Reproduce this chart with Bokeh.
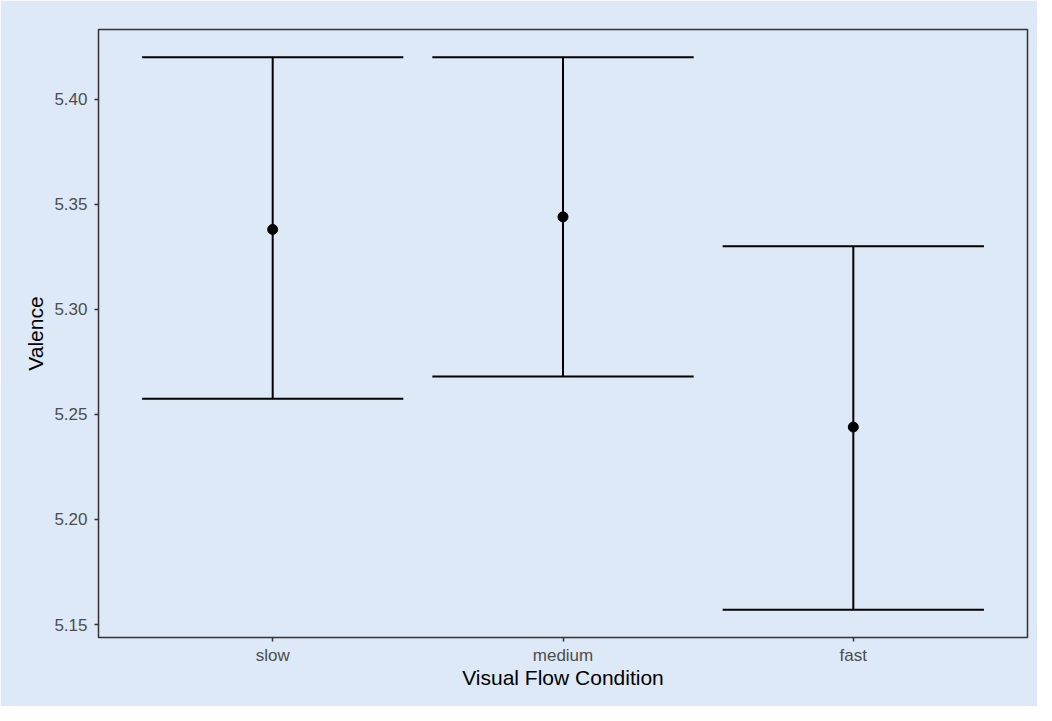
from bokeh.plotting import figure
from bokeh.models import ColumnDataSource, FactorRange, Range1d, FixedTicker, NumeralTickFormatter
from bokeh.embed import file_html
from bokeh.resources import INLINE

# ---- data ----
conditions = ["slow", "medium", "fast"]
valence_mean = [5.338, 5.344, 5.244]
ci_lower = [5.2575, 5.268, 5.157]
ci_upper = [5.420, 5.420, 5.330]
y_ticks = [5.15, 5.20, 5.25, 5.30, 5.35, 5.40]

HALF = 0.45  # half error-bar cap width (category units)

src = ColumnDataSource(dict(
    x=conditions,
    xl=[(c, -HALF) for c in conditions],
    xr=[(c, HALF) for c in conditions],
    mean=valence_mean, lo=ci_lower, hi=ci_upper,
))

lo_all, hi_all = min(ci_lower), max(ci_upper)
pad = 0.05 * (hi_all - lo_all)

BG = "#DDE9F7"
FONT = "Liberation Sans"

p = figure(
    width=1037, height=706,
    x_range=FactorRange(factors=conditions, range_padding=0.1, range_padding_units="absolute"),
    y_range=Range1d(lo_all - pad, hi_all + pad),
    output_backend="svg", toolbar_location=None,
    min_border_left=98, min_border_right=10, min_border_top=29, min_border_bottom=69,
)
p.background_fill_color = BG
p.border_fill_color = BG
p.outline_line_color = "#333333"
p.outline_line_width = 1.5
p.xgrid.visible = False
p.ygrid.visible = False

# error bars
p.segment(x0="x", y0="lo", x1="x", y1="hi", source=src, line_color="black", line_width=2)
p.segment(x0="xl", y0="hi", x1="xr", y1="hi", source=src, line_color="black", line_width=2)
p.segment(x0="xl", y0="lo", x1="xr", y1="lo", source=src, line_color="black", line_width=2)
p.scatter(x="x", y="mean", source=src, size=10, color="black")

for ax in (p.xaxis[0], p.yaxis[0]):
    ax.axis_line_color = None
    ax.major_tick_line_color = "#333333"
    ax.major_tick_line_width = 1.5
    ax.major_tick_in = 0
    ax.major_tick_out = 4
    ax.minor_tick_line_color = None
    ax.major_label_text_font = FONT
    ax.major_label_text_font_size = "17px"
    ax.major_label_text_color = "#4D4D4D"
    ax.axis_label_text_font = FONT
    ax.axis_label_text_font_size = "21px"
    ax.axis_label_text_font_style = "normal"
    ax.axis_label_text_color = "black"

p.yaxis.ticker = FixedTicker(ticks=y_ticks)
p.yaxis.formatter = NumeralTickFormatter(format="0.00")
p.yaxis.major_label_standoff = 7
p.yaxis.axis_label = "Valence"
p.yaxis.axis_label_standoff = 4
p.xaxis.major_label_standoff = 4
p.xaxis.axis_label = "Visual Flow Condition"
p.xaxis.axis_label_standoff = -2

open("out.html", "w").write(file_html(p, INLINE))
